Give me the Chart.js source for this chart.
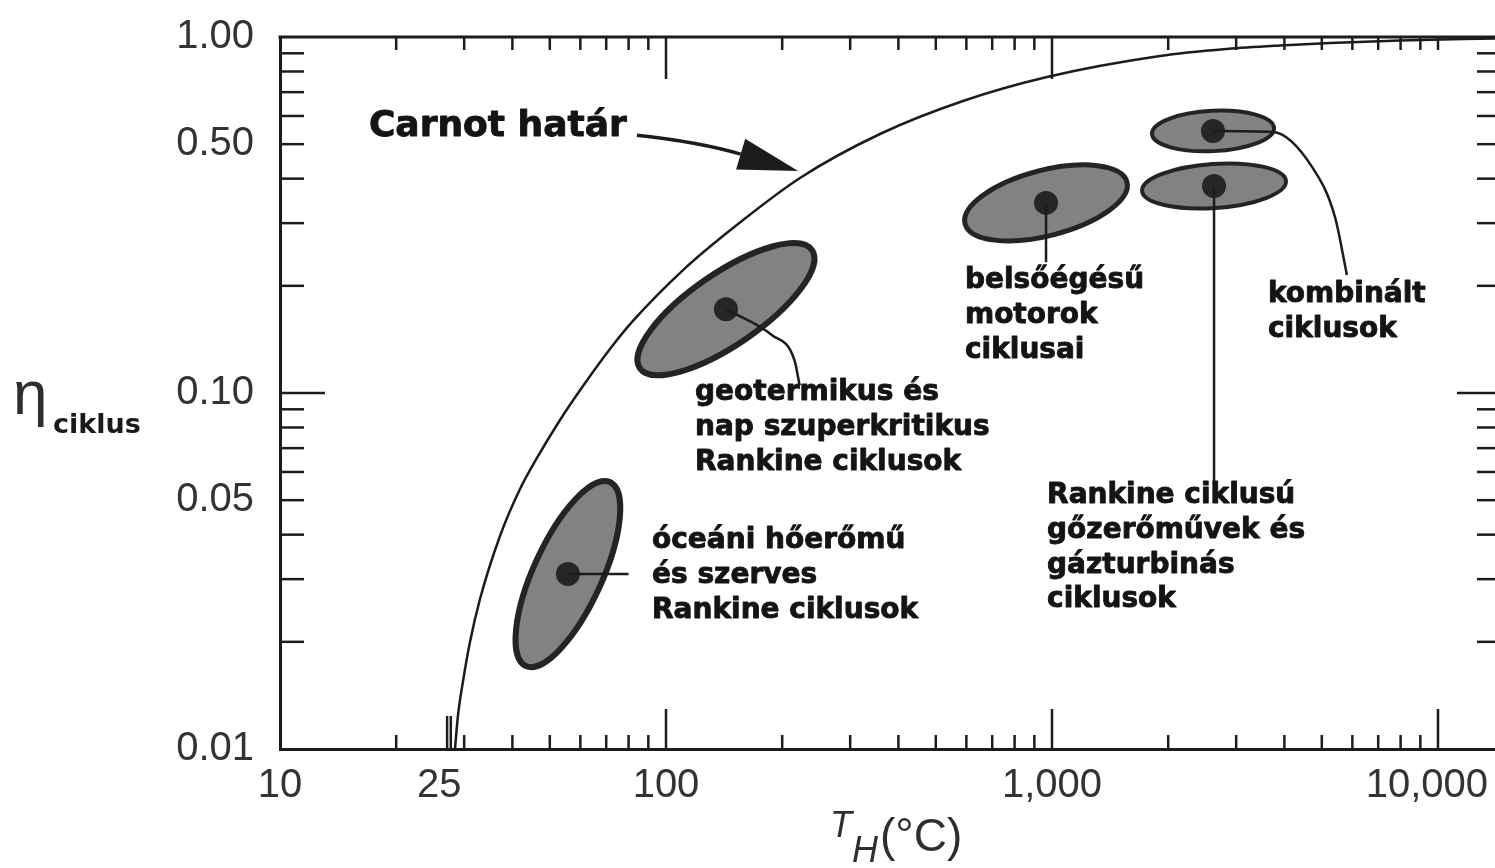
<!DOCTYPE html>
<html>
<head>
<meta charset="utf-8">
<title>Carnot határ</title>
<script src="https://cdn.jsdelivr.net/npm/chart.js@4.4.1/dist/chart.umd.min.js"></script>
<style>
html, body { margin: 0; padding: 0; background: #fff; overflow: hidden; }
canvas { display: block; }
</style>
</head>
<body>
<canvas id="cycleChart" width="1495" height="868"></canvas>
<script>
// axis ticks
var xTickValues = [10, 25, 100, 1000, 10000];
var xTickLabels = ['10', '\u00a025', '100', '1,000', '10,000\u00a0\u00a0'];
var yTickValues = [0.01, 0.05, 0.10, 0.50, 1.00];
var yTickLabels = ['0.01', '0.05', '0.10', '0.50', '1.00'];
var xMinorTicks = [20, 30, 40, 50, 60, 70, 80, 90, 200, 300, 400, 500, 600, 700, 800, 900,
    2000, 3000, 4000, 5000, 6000, 7000, 8000, 9000];
var xMajorTicks = [100, 1000, 10000];
var yMinorTicks = [0.02, 0.03, 0.04, 0.05, 0.06, 0.07, 0.08, 0.09,
    0.2, 0.3, 0.4, 0.5, 0.6, 0.7, 0.8, 0.9];
var yMajorTicks = [0.1];
var startMarks = [27.1, 27.7];

// Carnot limit
var carnotT = [28.4, 28.92, 29.80, 31.06, 32.97, 37.15, 41.86, 46.32, 53.14, 60.95, 71.58, 82.11,
    110.7, 149.1, 222.4, 358.4, 588.0, 970.5, 1905, 2841, 3897, 5252, 7972, 14050];
var carnotEta = [0.0100, 0.01246, 0.01552, 0.01998, 0.02638, 0.03966, 0.05374, 0.0657, 0.08398, 0.1046, 0.1329, 0.1594,
    0.2215, 0.2907, 0.4018, 0.534, 0.661, 0.772, 0.8842, 0.9254, 0.9465, 0.9619, 0.9776, 0.9903];

// cycle regions: centre, end of long axis, end of short axis
var regionT = [55.7, 143, 965, 2613, 2629];
var regionEta = [0.0310, 0.172, 0.342, 0.5445, 0.3815];
var regionMajorT = [71.6, 239, 1564, 3760, 4039];
var regionMajorEta = [0.0562, 0.252, 0.3915, 0.555, 0.394];
var regionMinorT = [67.1, 161, 1006, 2629, 2661];
var regionMinorEta = [0.0283, 0.1418, 0.278, 0.478, 0.331];

// leader lines from the region centres to the labels
var leaders = [
    { t: [55.7, 80], eta: [0.031, 0.031] },
    { t: [143, 188, 215, 222], eta: [0.172, 0.1455, 0.124, 0.105] },
    { t: [965, 965], eta: [0.342, 0.233] },
    { t: [2613, 3736, 4722, 5410, 5808], eta: [0.5445, 0.541, 0.431, 0.312, 0.2145] },
    { t: [2629, 2629], eta: [0.3815, 0.0551] }
];

var notes = [
    { t: 17.0, eta: 0.527, size: 36, lines: ['Carnot határ'] },
    { t: 118.9, eta: 0.0956, size: 28, lines: ['geotermikus és', 'nap szuperkritikus', 'Rankine ciklusok'] },
    { t: 92.0, eta: 0.0367, size: 28, lines: ['óceáni hőerőmű', 'és szerves', 'Rankine ciklusok'] },
    { t: 595, eta: 0.197, size: 28, lines: ['belsőégésű', 'motorok', 'ciklusai'] },
    { t: 3627, eta: 0.180, size: 28, lines: ['kombinált', 'ciklusok'] },
    { t: 971, eta: 0.0491, size: 28, lines: ['Rankine ciklusú', 'gőzerőművek és', 'gázturbinás', 'ciklusok'] }
];
var carnotArrow = { start: [84.1, 0.530], ctrl: [122.5, 0.507], tip: [220, 0.420] };

var INK = '#1c1c1c';

function toPx(chart, t, eta) {
    return { x: chart.scales.x.getPixelForValue(t), y: chart.scales.y.getPixelForValue(eta) };
}

function pairs(ts, etas) {
    return ts.map(function(t, i) { return { x: t, y: etas[i] }; });
}

var regionPlugin = {
    id: 'regions',
    beforeDatasetsDraw: function(chart) {
        var c = chart.ctx;
        var edge = [6, 6, 5, 4, 4];
        c.save();
        for (var i = 0; i < regionT.length; i++) {
            var o = toPx(chart, regionT[i], regionEta[i]);
            var m = toPx(chart, regionMajorT[i], regionMajorEta[i]);
            var n = toPx(chart, regionMinorT[i], regionMinorEta[i]);
            var a = Math.hypot(m.x - o.x, m.y - o.y);
            var b = Math.hypot(n.x - o.x, n.y - o.y);
            c.beginPath();
            c.ellipse(o.x, o.y, a, b, Math.atan2(m.y - o.y, m.x - o.x), 0, Math.PI * 2);
            c.fillStyle = '#828282';
            c.fill();
            c.lineWidth = edge[i];
            c.strokeStyle = '#242424';
            c.stroke();
        }
        c.restore();
    }
};

var decorPlugin = {
    id: 'decor',
    afterDraw: function(chart) {
        var c = chart.ctx, area = chart.chartArea, sx = chart.scales.x, sy = chart.scales.y;
        function seg(x1, y1, x2, y2) { c.beginPath(); c.moveTo(x1, y1); c.lineTo(x2, y2); c.stroke(); }
        c.save();
        c.strokeStyle = INK;
        c.lineWidth = 3;
        seg(area.left - 1.5, area.top, area.right, area.top);

        // inward ticks on all four sides
        c.lineWidth = 2.5;
        xMinorTicks.forEach(function(v) {
            var x = sx.getPixelForValue(v);
            seg(x, area.bottom, x, area.bottom - 14);
            seg(x, area.top, x, area.top + 13);
        });
        xMajorTicks.forEach(function(v) {
            var x = sx.getPixelForValue(v);
            seg(x, area.bottom, x, area.bottom - 40);
            seg(x, area.top, x, area.top + (v < 10000 ? 42 : 13));
        });
        startMarks.forEach(function(v) {
            var x = sx.getPixelForValue(v);
            seg(x, area.bottom, x, area.bottom - 33);
        });
        yMinorTicks.forEach(function(v) {
            var y = sy.getPixelForValue(v);
            seg(area.left, y, area.left + 24, y);
            seg(area.right, y, area.right - 18, y);
        });
        yMajorTicks.forEach(function(v) {
            var y = sy.getPixelForValue(v);
            seg(area.left, y, area.left + 45, y);
            seg(area.right, y, area.right - 38, y);
        });

        // arrow to the Carnot curve
        var s = toPx(chart, carnotArrow.start[0], carnotArrow.start[1]);
        var k = toPx(chart, carnotArrow.ctrl[0], carnotArrow.ctrl[1]);
        var p = toPx(chart, carnotArrow.tip[0], carnotArrow.tip[1]);
        var ang = Math.atan2(p.y - k.y, p.x - k.x);
        var hl = 60, hw = 16;
        var bx = p.x - hl * Math.cos(ang), by = p.y - hl * Math.sin(ang);
        c.lineWidth = 3.5;
        c.beginPath();
        c.moveTo(s.x, s.y);
        c.quadraticCurveTo(k.x, k.y, bx, by);
        c.stroke();
        c.fillStyle = INK;
        c.beginPath();
        c.moveTo(p.x, p.y);
        c.lineTo(bx + hw * Math.sin(ang), by - hw * Math.cos(ang));
        c.lineTo(bx - hw * Math.sin(ang), by + hw * Math.cos(ang));
        c.closePath();
        c.fill();

        // labels
        c.fillStyle = '#141414';
        c.strokeStyle = '#141414';
        c.lineWidth = 0.9;
        c.lineJoin = 'round';
        c.textAlign = 'left';
        c.textBaseline = 'alphabetic';
        notes.forEach(function(n) {
            var o = toPx(chart, n.t, n.eta);
            c.font = 'bold ' + n.size + 'px "DejaVu Sans"';
            n.lines.forEach(function(line, i) {
                c.fillText(line, o.x, o.y + i * 34.8);
                c.strokeText(line, o.x, o.y + i * 34.8);
            });
        });

        // axis titles
        c.fillStyle = '#2e2e2e';
        c.font = 'italic 36px "Liberation Sans"';
        c.fillText('T', 830, 837);
        c.fillText('H', 852, 862);
        c.font = '46px "Liberation Sans"';
        c.fillText('(°C)', 880, 851);
        c.font = '62px "Liberation Sans"';
        c.fillText('η', 13, 414);
        c.fillStyle = '#1a1a1a';
        c.font = 'bold 27px "DejaVu Sans"';
        c.fillText('ciklus', 53, 433);
        c.restore();
    }
};

var lineStyle = { showLine: true, pointRadius: 0, borderColor: INK, borderWidth: 2.5, cubicInterpolationMode: 'monotone', fill: false };

var datasets = [
    Object.assign({ label: 'Carnot határ', data: pairs(carnotT, carnotEta) }, lineStyle)
];
leaders.forEach(function(l, i) {
    datasets.push(Object.assign({ label: 'leader ' + i, data: pairs(l.t, l.eta) }, lineStyle));
});
datasets.push({
    label: 'centres',
    data: pairs(regionT, regionEta),
    showLine: false,
    pointRadius: 12,
    pointBackgroundColor: '#262626',
    pointBorderWidth: 0
});

new Chart(document.getElementById('cycleChart'), {
    type: 'scatter',
    data: { datasets: datasets },
    options: {
        responsive: false,
        animation: false,
        events: [],
        layout: { autoPadding: false, padding: { top: 37, right: 0, bottom: 0, left: 0 } },
        plugins: { legend: { display: false }, tooltip: { enabled: false } },
        scales: {
            x: {
                type: 'logarithmic',
                position: 'bottom',
                min: 10,
                max: 14050,
                afterBuildTicks: function(s) { s.ticks = xTickValues.map(function(v) { return { value: v }; }); },
                afterFit: function(s) { s.height = 119; s.paddingLeft = 0; s.paddingRight = 0; },
                ticks: {
                    autoSkip: false,
                    maxRotation: 0,
                    padding: 13,
                    color: '#333',
                    font: { family: 'Liberation Sans', size: 40 },
                    callback: function(v, i) { return xTickLabels[i]; }
                },
                grid: { display: true, drawOnChartArea: false, drawTicks: false },
                border: { display: true, color: INK, width: 3 }
            },
            y: {
                type: 'logarithmic',
                position: 'left',
                min: 0.01,
                max: 1,
                afterBuildTicks: function(s) { s.ticks = yTickValues.map(function(v) { return { value: v }; }); },
                afterFit: function(s) { s.width = 280; s.paddingTop = 0; s.paddingBottom = 0; },
                ticks: {
                    autoSkip: false,
                    padding: 26,
                    color: '#333',
                    font: { family: 'Liberation Sans', size: 40 },
                    callback: function(v, i) { return yTickLabels[i]; }
                },
                grid: { display: true, drawOnChartArea: false, drawTicks: false },
                border: { display: true, color: INK, width: 3 }
            }
        }
    },
    plugins: [regionPlugin, decorPlugin]
});
</script>
</body>
</html>
